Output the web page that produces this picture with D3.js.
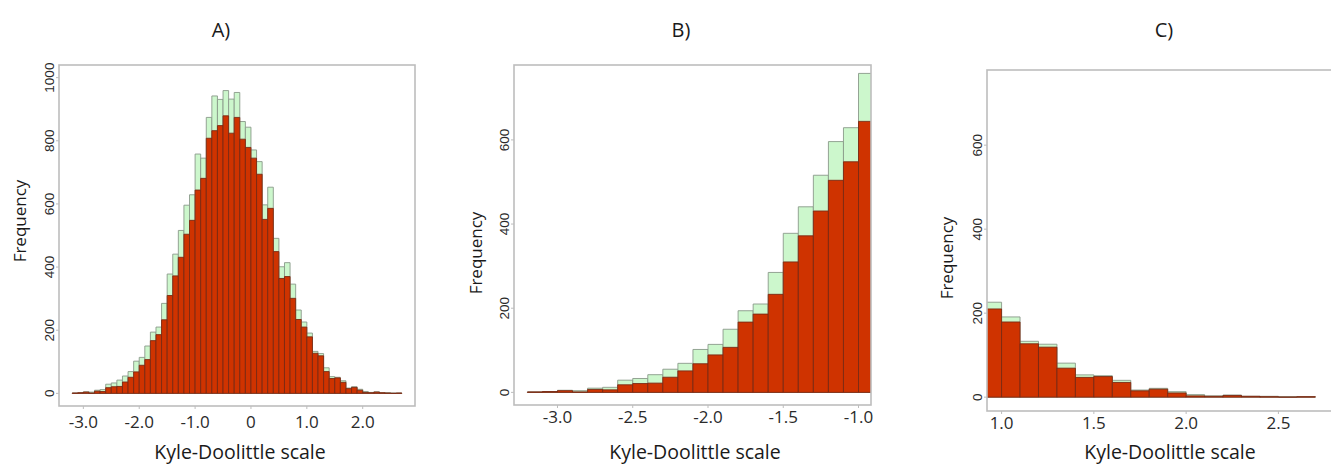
<!DOCTYPE html>
<html>
<head>
<meta charset="utf-8">
<script src="https://cdn.jsdelivr.net/npm/d3@7"></script>
<style>
  body { margin: 0; background: #fff; }
  svg { display: block; }
</style>
</head>
<body>
<svg id="chart"></svg>
<script>
// histogram bins (lower edge, width 0.1)
const binLower = [-3.2, -3.1, -3.0, -2.9, -2.8, -2.7, -2.6, -2.5, -2.4, -2.3,
  -2.2, -2.1, -2.0, -1.9, -1.8, -1.7, -1.6, -1.5, -1.4, -1.3,
  -1.2, -1.1, -1.0, -0.9, -0.8, -0.7, -0.6, -0.5, -0.4, -0.3,
  -0.2, -0.1, 0.0, 0.1, 0.2, 0.3, 0.4, 0.5, 0.6, 0.7,
  0.8, 0.9, 1.0, 1.1, 1.2, 1.3, 1.4, 1.5, 1.6, 1.7,
  1.8, 1.9, 2.0, 2.1, 2.2, 2.3, 2.4, 2.5, 2.6];
const binWidth = 0.1;

// light green: all sequences
const totalCounts = [1, 2, 5, 4, 10, 12, 29, 33, 42, 55,
  69, 102, 114, 150, 194, 210, 285, 378, 441, 516,
  596, 629, 758, 745, 874, 942, 931, 959, 932, 953,
  861, 843, 771, 734, 597, 653, 491, 401, 414, 346,
  264, 226, 191, 133, 126, 81, 53, 51, 40, 17,
  21, 13, 6, 3, 5, 2, 2, 1, 1];

// red: subset
const subsetCounts = [1, 2, 4, 1, 7, 6, 18, 21, 22, 36,
  51, 68, 89, 107, 167, 186, 233, 310, 372, 431,
  504, 548, 644, 681, 808, 832, 848, 879, 824, 874,
  805, 779, 745, 694, 551, 586, 449, 364, 370, 301,
  234, 210, 179, 127, 119, 69, 47, 49, 35, 15,
  19, 10, 3, 2, 4, 2, 1, 0, 1];

// tick values and labels
const xTicksA = [-3, -2, -1, 0, 1, 2];
const xLabelsA = ["-3.0", "-2.0", "-1.0", "0", "1.0", "2.0"];
const xTicksB = [-3, -2.5, -2, -1.5, -1];
const xLabelsB = ["-3.0", "-2.5", "-2.0", "-1.5", "-1.0"];
const xTicksC = [1, 1.5, 2, 2.5];
const xLabelsC = ["1.0", "1.5", "2.0", "2.5"];
const yTicksA = [0, 200, 400, 600, 800, 1000];
const yTicksBC = [0, 200, 400, 600];
const titles = ["A)", "B)", "C)"];
const xTitle = "Kyle-Doolittle scale";
const yTitle = "Frequency";

const W = 1331, H = 464;
const svg = d3.select("#chart").attr("width", W).attr("height", H);

const bins = binLower.map((b, i) => ({ x0: b, x1: b + binWidth, total: totalCounts[i], sub: subsetCounts[i] }));

const panels = [
  { id: "A", left: 59, top: 65, width: 356, height: 341, xDomain: [-3.436, 2.936], yDomain: [-40, 1040],
    xTicks: xTicksA, xLabels: xLabelsA, yTicks: yTicksA, title: titles[0], titleX: 221,
    xTitleX: 240, yTitleX: 20, yTitleY: 221, tickLabelDy: 16 },
  { id: "B", left: 514, top: 65, width: 357, height: 340, xDomain: [-3.289, -0.917], yDomain: [-30, 778],
    xTicks: xTicksB, xLabels: xLabelsB, yTicks: yTicksBC, title: titles[1], titleX: 681,
    xTitleX: 695, yTitleX: 476, yTitleY: 253, tickLabelDy: 12 },
  { id: "C", left: 987, top: 70, width: 380, height: 341, xDomain: [0.921, 2.98], yDomain: [-33, 779],
    xTicks: xTicksC, xLabels: xLabelsC, yTicks: yTicksBC, title: titles[2], titleX: 1164,
    xTitleX: 1170, yTitleX: 947, yTitleY: 258, tickLabelDy: 12 }
];

function barPath(x, y, d, key) {
  const x0 = x(d.x0), x1 = x(d.x1), y0 = y(0), y1 = y(d[key]);
  return `M${x0},${y0}V${y1}H${x1}V${y0}Z`;
}

panels.forEach(p => {
  const x = d3.scaleLinear().domain(p.xDomain).range([p.left, p.left + p.width]);
  const y = d3.scaleLinear().domain(p.yDomain).range([p.top + p.height, p.top]);

  const clipId = "clip" + p.id;
  svg.append("clipPath").attr("id", clipId)
    .append("rect")
    .attr("x", p.left).attr("y", p.top)
    .attr("width", p.width).attr("height", p.height);

  const plot = svg.append("g").attr("clip-path", `url(#${clipId})`);

  // all sequences (behind)
  plot.append("g")
    .selectAll("path")
    .data(bins)
    .join("path")
    .attr("d", d => barPath(x, y, d, "total"))
    .attr("fill", "#ccf7cc")
    .attr("stroke", "#8a9a8a")
    .attr("stroke-width", 0.9);

  // subset (front)
  plot.append("g")
    .selectAll("path")
    .data(bins)
    .join("path")
    .attr("d", d => barPath(x, y, d, "sub"))
    .attr("fill", "#cf3300")
    .attr("stroke", "#7a2a14")
    .attr("stroke-width", 0.9);

  // frame
  svg.append("rect")
    .attr("x", p.left).attr("y", p.top)
    .attr("width", p.width).attr("height", p.height)
    .attr("fill", "none")
    .attr("stroke", "#bdbdbd")
    .attr("stroke-width", 1.6);

  // y axis ticks + labels (rotated, R style)
  const yAxis = svg.append("g");
  yAxis.selectAll("line")
    .data(p.yTicks)
    .join("line")
    .attr("x1", p.left - 3).attr("x2", p.left)
    .attr("y1", d => y(d)).attr("y2", d => y(d))
    .attr("stroke", "#bdbdbd");
  yAxis.selectAll("text")
    .data(p.yTicks)
    .join("text")
    .attr("transform", d => `translate(${p.left - 10},${y(d)}) rotate(-90)`)
    .attr("text-anchor", "middle")
    .attr("dy", "0.35em")
    .style("font-family", "'Liberation Sans', Arial, sans-serif")
    .style("font-size", "13.5px")
    .attr("fill", "#2a2a2a")
    .text(d => d);

  // x axis labels
  const xAxis = svg.append("g");
  xAxis.selectAll("line")
    .data(p.xTicks)
    .join("line")
    .attr("x1", d => x(d)).attr("x2", d => x(d))
    .attr("y1", p.top + p.height).attr("y2", p.top + p.height + 3)
    .attr("stroke", "#bdbdbd");
  xAxis.selectAll("text")
    .data(p.xTicks)
    .join("text")
    .attr("x", d => x(d))
    .attr("y", p.top + p.height + p.tickLabelDy)
    .attr("dy", "0.35em")
    .attr("text-anchor", "middle")
    .style("font-family", "'Open Sans', sans-serif")
    .style("font-size", "17px")
    .attr("fill", "#2a2a2a")
    .text((d, i) => p.xLabels[i]);

  // axis titles
  svg.append("text")
    .attr("x", p.xTitleX)
    .attr("y", 452)
    .attr("dy", "0.35em")
    .attr("text-anchor", "middle")
    .style("font-family", "'Open Sans', sans-serif")
    .style("font-size", "19.5px")
    .attr("fill", "#1a1a1a")
    .text(xTitle);

  svg.append("text")
    .attr("transform", `translate(${p.yTitleX},${p.yTitleY}) rotate(-90)`)
    .attr("dy", "0.35em")
    .attr("text-anchor", "middle")
    .style("font-family", "'Open Sans', sans-serif")
    .style("font-size", "17px")
    .attr("fill", "#1a1a1a")
    .text(yTitle);

  // panel title
  svg.append("text")
    .attr("x", p.titleX)
    .attr("y", 30)
    .attr("dy", "0.35em")
    .attr("text-anchor", "middle")
    .style("font-family", "'Open Sans', sans-serif")
    .style("font-size", "20px")
    .attr("fill", "#1a1a1a")
    .text(p.title);
});
</script>
</body>
</html>
